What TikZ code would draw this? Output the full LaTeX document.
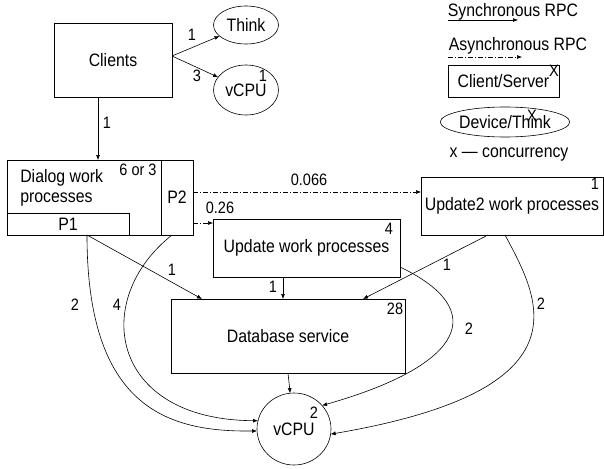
\documentclass[tikz,border=0pt]{standalone}
\usepackage{fontspec}
\setmainfont{Liberation Sans}[FakeStretch=0.88]
\usetikzlibrary{arrows.meta,shapes.geometric}

\tikzset{
  box/.style={draw, inner sep=0pt, outer sep=0pt, font=\fontsize{18}{20}\selectfont},
  dev/.style={draw, ellipse, inner sep=0pt, outer sep=0pt, font=\fontsize{18}{20}\selectfont},
  txt/.style={inner sep=0pt, font=\fontsize{18}{20}\selectfont},
  num/.style={inner sep=0pt, font=\fontsize{16.5}{18}\selectfont},
  sync/.style={-{Latex[length=5pt,width=4pt]}},
  async/.style={-{Latex[length=5pt,width=4pt]}, dash pattern=on 5pt off 2pt on 1pt off 2pt}
}

\begin{document}
\begin{tikzpicture}[x=1pt, y=-1pt, line width=0.6pt]
  \useasboundingbox (0,0) rectangle (604,468);

  \node[box, minimum width=118pt, minimum height=74pt] (clients) at (113,60) {Clients};
  \node[dev, minimum width=65pt, minimum height=38pt] (think) at (246,25) {Think};
  \node[dev, minimum width=65pt, minimum height=50pt] (cpu1) at (246,90) {\raisebox{-4pt}{vCPU}};
  \node[num] (cpu1x) at (263,76) {1};
  \draw[sync] ([yshift=4pt]clients.east) -- (think);
  \draw[sync] ([yshift=4pt]clients.east) -- (cpu1);
  \node[num] (l1) at (192,35) {1};
  \node[num] (l3) at (197,76) {3};

  \node[box, minimum width=186pt, minimum height=75pt] (dialog) at (100,197.5) {};
  \node[txt, anchor=west, align=left] (dialogtxt) at (20,188) {Dialog work\\processes};
  \node[box, minimum width=32pt, minimum height=75pt] (p2) at (177,197.5) {P2};
  \node[box, minimum width=122pt, minimum height=22pt] (p1) at (68,224) {P1};
  \node[num] (dialogx) at (138,170) {6 or 3};
  \draw[sync] ([xshift=-15pt]clients.south) -- ([xshift=-15pt]clients.south |- dialog.north);
  \node[num] (l1b) at (107,123) {1};

  \node[box, minimum width=187pt, minimum height=58pt] (upd) at (306.5,248) {Update work processes};
  \node[num] (updx) at (389,229) {4};
  \node[box, minimum width=182pt, minimum height=58pt] (upd2) at (512,206) {Update2 work processes};
  \node[num] (upd2x) at (595,184) {1};
  \draw[async] ([yshift=5.5pt]p2.east) -- ([yshift=5.5pt]p2.east -| upd2.west);
  \draw[async] ([yshift=-25.5pt]p2.east) -- ([yshift=-25.5pt]p2.east -| upd.west);
  \node[num] (l066) at (309,180) {0.066};
  \node[num] (l026) at (220,208) {0.26};

  \node[box, minimum width=234pt, minimum height=74pt] (db) at (288,336) {Database service};
  \node[num] (dbx) at (395,309) {28};
  \draw[sync] ([xshift=19pt]p1.south) -- ([xshift=-86pt]db.north);
  \draw[sync] ([xshift=-23.5pt]upd.south) -- ([xshift=-23.5pt]upd.south |- db.north);
  \draw[sync] ([xshift=-24pt]upd2.south) -- ([xshift=75pt]db.north);
  \node[num] (l1c) at (172,270) {1};
  \node[num] (l1d) at (273,287) {1};
  \node[num] (l1e) at (447,265) {1};

  \node[dev, minimum width=74pt, minimum height=72pt] (cpu) at (294,429) {vCPU};
  \node[num] (cpux) at (314,413) {2};
  \draw[sync] (db.south) -- (cpu);
  \draw[sync] ([xshift=19pt]p1.south) .. controls (87,410) and (170,432) .. (cpu.183);
  \draw[sync] ([xshift=-5pt]p2.south) .. controls (90,300) and (110,420) .. (cpu.167);
  \draw[sync] ([yshift=-19pt]upd.east) .. controls (490,310) and (465,365) .. (cpu.40);
  \draw[sync] ([xshift=-7pt]upd2.south) .. controls (540,300) and (590,390) .. (cpu.-8);
  \node[num] (l2a) at (75,305) {2};
  \node[num] (l4) at (117,305) {4};
  \node[num] (l2b) at (469,329) {2};
  \node[num] (l2c) at (541,304) {2};

  \node[txt] (synctxt) at (513,12) {Synchronous RPC};
  \coordinate (s1) at (448,20);
  \coordinate (s2) at (518,20);
  \draw[sync] (s1) -- (s2);
  \node[txt] (asynctxt) at (518,46) {Asynchronous RPC};
  \coordinate (a1) at (448,57);
  \coordinate (a2) at (522,57);
  \draw[async] (a1) -- (a2);
  \node[box, minimum width=111pt, minimum height=32pt] (cs) at (503.5,81) {\raisebox{-3pt}{Client/Server}};
  \node[num] (csx) at (554,71) {X};
  \node[dev, minimum width=114pt, minimum height=30pt] (devthink) at (505,122) {Device/Think};
  \node[num] (devx) at (532,116) {X};
  \node[txt] (conc) at (509,155) {x --- concurrency};
\end{tikzpicture}
\end{document}
